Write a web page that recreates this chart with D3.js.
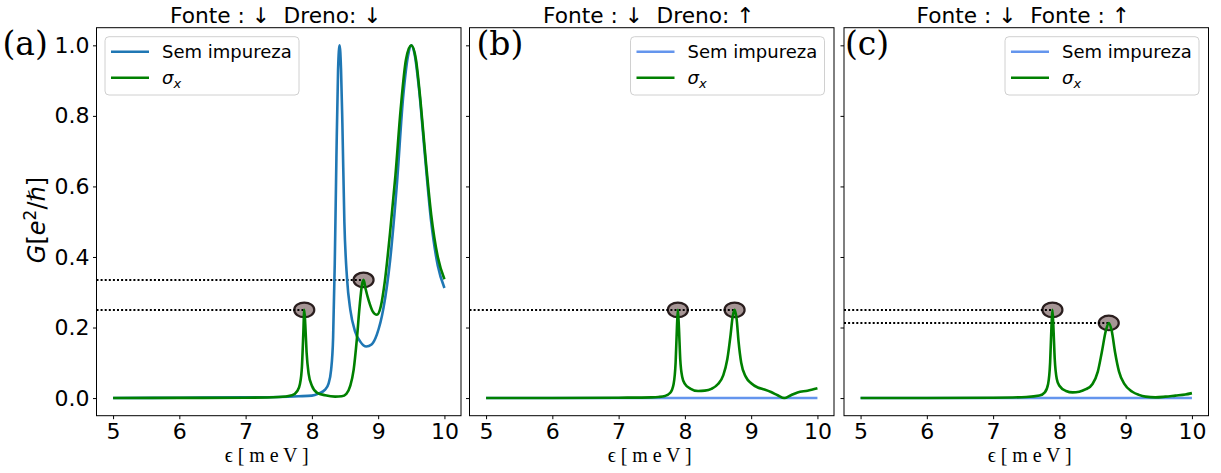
<!DOCTYPE html>
<html><head><meta charset="utf-8">
<script src="https://cdn.jsdelivr.net/npm/d3@7"></script>
<style>
html,body{margin:0;padding:0;background:#fff;}
svg{display:block;}
text{font-family:"DejaVu Sans",sans-serif;fill:#000;}
</style></head><body>
<svg id="chart" width="1221" height="473"></svg>
<script>
// ---------- data ----------
const xTicks = [5, 6, 7, 8, 9, 10];
const yTicks = [0.0, 0.2, 0.4, 0.6, 0.8, 1.0];
const titles = ["Fonte : \u2193  Dreno: \u2193", "Fonte : \u2193  Dreno: \u2191", "Fonte : \u2193  Fonte : \u2191"];
const panelLabels = ["(a)", "(b)", "(c)"];
const seriesNames = ["Sem impureza", "\u03c3x"];
const xLabel = "\u03f5 [ m e V ]";

// (a)
const aPureX = [5.0, 6.0, 7.0, 7.5, 7.8, 8.0, 8.1, 8.2, 8.25, 8.29, 8.32, 8.345, 8.37, 8.395, 8.418, 8.44, 8.46, 8.49, 8.53, 8.58, 8.65, 8.73, 8.82, 8.9, 8.98, 9.08, 9.18, 9.28, 9.38, 9.45, 9.5, 9.55, 9.62, 9.7, 9.8, 9.9, 10.0];
const aPureY = [0.000, 0.001, 0.002, 0.003, 0.005, 0.007, 0.013, 0.024, 0.04, 0.08, 0.17, 0.38, 0.68, 0.93, 1.0, 0.93, 0.78, 0.5, 0.34, 0.25, 0.19, 0.16, 0.146, 0.152, 0.18, 0.255, 0.39, 0.6, 0.86, 0.97, 1.0, 0.975, 0.87, 0.7, 0.5, 0.375, 0.312];
const aSigmaX = [5.0, 6.0, 7.0, 7.5, 7.7, 7.78, 7.82, 7.85, 7.87, 7.885, 7.9, 7.92, 7.95, 8.0, 8.08, 8.2, 8.35, 8.45, 8.52, 8.58, 8.63, 8.68, 8.72, 8.755, 8.78, 8.81, 8.86, 8.92, 8.98, 9.04, 9.1, 9.18, 9.26, 9.34, 9.42, 9.5, 9.57, 9.64, 9.72, 9.8, 9.9, 10.0];
const aSigmaY = [0.000, 0.0005, 0.001, 0.003, 0.008, 0.02, 0.04, 0.09, 0.18, 0.25, 0.21, 0.13, 0.07, 0.035, 0.015, 0.008, 0.004, 0.005, 0.012, 0.035, 0.08, 0.17, 0.26, 0.32, 0.335, 0.31, 0.275, 0.245, 0.236, 0.26, 0.33, 0.47, 0.63, 0.82, 0.96, 1.0, 0.96, 0.84, 0.67, 0.52, 0.4, 0.337];
const aMarkX = [7.885, 8.78];
const aMarkY = [0.25, 0.335];
const aGuideX = [7.885, 8.78];
const aGuideY = [0.25, 0.335];

// (b)
const bPureX = [5, 6, 7, 8, 9, 10];
const bPureY = [0, 0, 0, 0, 0, 0];
const bSigmaX = [5.0, 6.0, 7.0, 7.5, 7.6, 7.7, 7.78, 7.83, 7.86, 7.88, 7.894, 7.91, 7.93, 7.96, 8.0, 8.08, 8.2, 8.3, 8.4, 8.5, 8.58, 8.64, 8.69, 8.72, 8.75, 8.78, 8.81, 8.85, 8.92, 9.0, 9.1, 9.2, 9.3, 9.4, 9.5, 9.6, 9.7, 9.85, 10.0];
const bSigmaY = [0, 0, 0.001, 0.002, 0.003, 0.006, 0.015, 0.04, 0.1, 0.2, 0.25, 0.2, 0.11, 0.06, 0.04, 0.027, 0.02, 0.021, 0.026, 0.04, 0.065, 0.11, 0.18, 0.23, 0.25, 0.225, 0.16, 0.1, 0.06, 0.042, 0.03, 0.024, 0.017, 0.008, 0.0, 0.008, 0.016, 0.021, 0.028];
const bMarkX = [7.894, 8.75];
const bMarkY = [0.25, 0.25];
const bGuideX = [8.75];
const bGuideY = [0.25];

// (c)
const cPureX = [5, 6, 7, 8, 9, 10];
const cPureY = [0, 0, 0, 0, 0, 0];
const cSigmaX = [5.0, 6.0, 7.0, 7.5, 7.7, 7.78, 7.83, 7.86, 7.88, 7.895, 7.91, 7.93, 7.96, 8.0, 8.1, 8.2, 8.3, 8.4, 8.5, 8.58, 8.64, 8.7, 8.745, 8.79, 8.84, 8.9, 8.98, 9.1, 9.2, 9.3, 9.45, 9.6, 9.75, 9.9, 10.0];
const cSigmaY = [0, 0, 0.001, 0.003, 0.007, 0.016, 0.04, 0.1, 0.2, 0.25, 0.2, 0.11, 0.055, 0.035, 0.02, 0.016, 0.018, 0.025, 0.04, 0.075, 0.13, 0.19, 0.213, 0.19, 0.13, 0.075, 0.04, 0.018, 0.009, 0.004, 0.002, 0.004, 0.007, 0.01, 0.014];
const cMarkX = [7.895, 8.745];
const cMarkY = [0.25, 0.213];
const cGuideX = [7.895, 8.745];
const cGuideY = [0.25, 0.213];

// ---------- layout / style ----------
const zip = (xs, ys) => xs.map((x, i) => ({x, y: ys[i]}));
const panels = [
  {title: titles[0], label: panelLabels[0], pure: zip(aPureX, aPureY), sigma: zip(aSigmaX, aSigmaY),
   marks: zip(aMarkX, aMarkY), guides: zip(aGuideX, aGuideY), pureColor: "#1f77b4", legendLeft: true,
   left: 96.5, labelDx: -94, xLabelDx: -12, showYLabels: true},
  {title: titles[1], label: panelLabels[1], pure: zip(bPureX, bPureY), sigma: zip(bSigmaX, bSigmaY),
   marks: zip(bMarkX, bMarkY), guides: zip(bGuideX, bGuideY), pureColor: "#6495ed", legendLeft: false,
   left: 469.5, labelDx: 7, xLabelDx: -2, showYLabels: false},
  {title: titles[2], label: panelLabels[2], pure: zip(cPureX, cPureY), sigma: zip(cSigmaX, cSigmaY),
   marks: zip(cMarkX, cMarkY), guides: zip(cGuideX, cGuideY), pureColor: "#6495ed", legendLeft: false,
   left: 844, labelDx: 1, xLabelDx: 3.5, showYLabels: false}
];
const W = 364.5, TOP = 27.7, BOTTOM = 415.7;
const GREEN = "#008000";
const svg = d3.select("#chart");

panels.forEach((p, pi) => {
  const x = d3.scaleLinear().domain([4.75, 10.25]).range([p.left, p.left + W]);
  const y = d3.scaleLinear().domain([-0.05, 1.05]).range([BOTTOM, TOP]);
  const g = svg.append("g");
  const line = d3.line().x(d => x(d.x)).y(d => y(d.y)).curve(d3.curveMonotoneX);

  // ellipses (patches drawn below lines)
  g.selectAll("ellipse.mk").data(p.marks).join("ellipse")
    .attr("cx", d => x(d.x)).attr("cy", d => y(d.y))
    .attr("rx", 10).attr("ry", 7.3)
    .attr("fill", "#a69595").attr("stroke", "#2a1e1e").attr("stroke-width", 2.2);

  // dotted guides
  g.selectAll("line.guide").data(p.guides).join("line")
    .attr("x1", x(4.75)).attr("x2", d => x(d.x))
    .attr("y1", d => y(d.y)).attr("y2", d => y(d.y))
    .attr("stroke", "#000").attr("stroke-width", 2).attr("stroke-dasharray", "2,2.1");

  g.append("path").datum(p.pure).attr("d", line)
    .attr("fill", "none").attr("stroke", p.pureColor).attr("stroke-width", 2.6);
  g.append("path").datum(p.sigma).attr("d", line)
    .attr("fill", "none").attr("stroke", GREEN).attr("stroke-width", 2.6);

  // axes
  const xa = g.append("g").attr("transform", `translate(0,${BOTTOM})`)
    .call(d3.axisBottom(x).tickValues(xTicks).tickSize(3.5).tickPadding(4.5).tickFormat(d3.format("d")));
  const ya = g.append("g").attr("transform", `translate(${p.left},0)`)
    .call(d3.axisLeft(y).tickValues(yTicks).tickSize(3.5).tickPadding(3.5)
      .tickFormat(p.showYLabels ? d3.format(".1f") : () => ""));
  [xa, ya].forEach(a => {
    a.select(".domain").remove();
    a.selectAll("text").style("font-size", "22px").style("font-family", "DejaVu Sans");
    a.selectAll("line").attr("stroke", "#000").attr("stroke-width", 1);
  });
  // spines
  g.append("rect").attr("x", p.left).attr("y", TOP).attr("width", W).attr("height", BOTTOM - TOP)
    .attr("fill", "none").attr("stroke", "#000").attr("stroke-width", 1);

  // title
  g.append("text").attr("x", p.left + W / 2 - 3).attr("y", 22.5)
    .attr("text-anchor", "middle").style("font-size", "21.7px").style("white-space", "pre")
    .text(p.title);

  // panel label
  g.append("text").attr("x", p.left + p.labelDx).attr("y", 55)
    .style("font-family", "'DejaVu Serif', serif").style("font-size", "33px")
    .text(p.label);

  // x label
  g.append("text").attr("x", p.left + W / 2 + p.xLabelDx).attr("y", 462)
    .attr("text-anchor", "middle")
    .style("font-family", "'Liberation Serif', serif").style("font-size", "20px")
    .attr("textLength", 84).attr("lengthAdjust", "spacing")
    .style("white-space", "pre")
    .text(xLabel);

  // legend
  const LW = 194, LH = 58.3;
  const lx = p.legendLeft ? p.left + 8.5 : p.left + W - 9.5 - LW;
  const ly = 36.7;
  const lg = g.append("g");
  lg.append("rect").attr("x", lx).attr("y", ly).attr("width", LW).attr("height", LH)
    .attr("rx", 4).attr("fill", "#fff").attr("fill-opacity", 0.85)
    .attr("stroke", "#d0d0d0").attr("stroke-width", 1);
  const rows = [{name: seriesNames[0], color: p.pureColor}, {name: seriesNames[1], color: GREEN}];
  rows.forEach((r, i) => {
    const ry = ly + 15 + i * 26;
    lg.append("line").attr("x1", lx + 6).attr("x2", lx + 44).attr("y1", ry).attr("y2", ry)
      .attr("stroke", r.color).attr("stroke-width", 2.6);
    const t = lg.append("text").attr("x", lx + 57).attr("y", ry + 6.5).style("font-size", "18px");
    if (i === 0) t.text(r.name);
    else {
      t.append("tspan").style("font-style", "italic").text(r.name[0]);
      t.append("tspan").style("font-style", "italic").style("font-size", "13px").attr("dy", 4).text(r.name[1]);
    }
  });
});

// y label (mathtext-like)
const yl = svg.append("text")
  .attr("transform", "translate(45,220) rotate(-90)")
  .attr("text-anchor", "middle").style("font-size", "24px");
yl.append("tspan").style("font-style", "italic").text("G");
yl.append("tspan").text("[");
yl.append("tspan").style("font-style", "italic").text("e");
yl.append("tspan").attr("dy", -9).style("font-size", "17px").text("2");
yl.append("tspan").attr("dy", 9).text("/");
yl.append("tspan").style("font-style", "italic").text("\u210f");
yl.append("tspan").text("]");
</script>
</body></html>
